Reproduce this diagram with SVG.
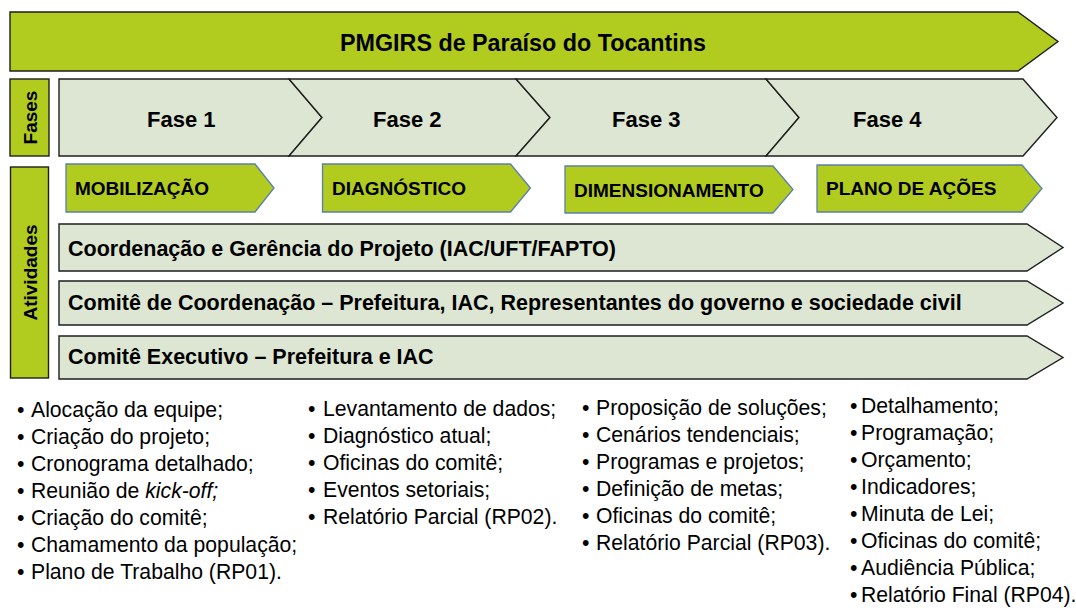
<svg xmlns="http://www.w3.org/2000/svg" width="1076" height="613" viewBox="0 0 1076 613">
<style>
.g{fill:#B1CB1F;stroke:#1e1e1e;stroke-width:1.4}
.lt{fill:#DDE6D2;stroke:#1e1e1e;stroke-width:1.4}
.sm{fill:#B1CB1F;stroke:#5B7FAA;stroke-width:1.3}
.b{font-family:"Liberation Sans",Arial,sans-serif;font-weight:bold;fill:#000}
.r{font-family:"Liberation Sans",Arial,sans-serif;font-size:21.2px;fill:#000}
</style>
<rect width="1076" height="613" fill="#fff"/>
<g id="title">
<polygon class="g" points="10,12 1018,12 1058,41.5 1018,71 10,71"/>
<text class="b" x="523" y="51" font-size="23.3" text-anchor="middle">PMGIRS de Paraíso do Tocantins</text>
</g>
<g id="fases-label">
<rect class="g" x="10" y="79" width="39" height="77"/>
<text class="b" font-size="19" text-anchor="middle" transform="translate(37,117.5) rotate(-90)">Fases</text>
</g>
<g id="fase1">
<polygon class="lt" points="59,79 289,79 322,117.5 289,156 59,156"/>
<text class="b" x="147" y="127" font-size="22">Fase 1</text>
</g>
<g id="fase2">
<polygon class="lt" points="289,79 516,79 550,117.5 516,156 289,156 322,117.5"/>
<text class="b" x="373" y="127" font-size="22">Fase 2</text>
</g>
<g id="fase3">
<polygon class="lt" points="516,79 766,79 799,117.5 766,156 516,156 550,117.5"/>
<text class="b" x="612" y="127" font-size="22">Fase 3</text>
</g>
<g id="fase4">
<polygon class="lt" points="766,79 1023,79 1057,117.5 1023,156 766,156 799,117.5"/>
<text class="b" x="853" y="127" font-size="22">Fase 4</text>
</g>
<g id="atividades-label">
<rect class="g" x="10.5" y="167" width="38" height="211"/>
<text class="b" font-size="19" text-anchor="middle" transform="translate(37,272.5) rotate(-90)">Atividades</text>
</g>
<g id="mobilizacao">
<polygon class="sm" points="66,164 255,164 274,188 255,212 66,212"/>
<text class="b" x="75" y="195" font-size="19">MOBILIZAÇÃO</text>
</g>
<g id="diagnostico">
<polygon class="sm" points="322.5,164 510.5,164 530.5,188 510.5,212 322.5,212"/>
<text class="b" x="332" y="195" font-size="19">DIAGNÓSTICO</text>
</g>
<g id="dimensionamento">
<polygon class="sm" points="565,166 773,166 793,189.5 773,213 565,213"/>
<text class="b" x="574" y="197" font-size="19">DIMENSIONAMENTO</text>
</g>
<g id="plano">
<polygon class="sm" points="817,165 1022,165 1042,188.5 1022,212 817,212"/>
<text class="b" x="826" y="195" font-size="19">PLANO DE AÇÕES</text>
</g>
<g id="coordenacao">
<polygon class="lt" points="59,224 1027,224 1063,247.5 1027,271 59,271"/>
<text class="b" x="68" y="256" font-size="21.5">Coordenação e Gerência do Projeto (IAC/UFT/FAPTO)</text>
</g>
<g id="comite-coordenacao">
<polygon class="lt" points="59,281 1027,281 1063,303 1027,325 59,325"/>
<text class="b" x="68" y="310" font-size="21.5">Comitê de Coordenação – Prefeitura, IAC, Representantes do governo e sociedade civil</text>
</g>
<g id="comite-executivo">
<polygon class="lt" points="59,336 1027,336 1063,357.5 1027,379 59,379"/>
<text class="b" x="68" y="364" font-size="21.5">Comitê Executivo – Prefeitura e IAC</text>
</g>
<g id="connectors"></g>
<g id="lista-fase1" class="r">
<text y="417"><tspan x="17">•</tspan><tspan x="31">Alocação da equipe;</tspan></text>
<text y="444"><tspan x="17">•</tspan><tspan x="31">Criação do projeto;</tspan></text>
<text y="471"><tspan x="17">•</tspan><tspan x="31">Cronograma detalhado;</tspan></text>
<text y="498"><tspan x="17">•</tspan><tspan x="31">Reunião de </tspan><tspan font-style="italic">kick-off;</tspan></text>
<text y="525"><tspan x="17">•</tspan><tspan x="31">Criação do comitê;</tspan></text>
<text y="552"><tspan x="17">•</tspan><tspan x="31">Chamamento da população;</tspan></text>
<text y="579"><tspan x="17">•</tspan><tspan x="31">Plano de Trabalho (RP01).</tspan></text>
</g>
<g id="lista-fase2" class="r">
<text y="416"><tspan x="308">•</tspan><tspan x="323">Levantamento de dados;</tspan></text>
<text y="443"><tspan x="308">•</tspan><tspan x="323">Diagnóstico atual;</tspan></text>
<text y="470"><tspan x="308">•</tspan><tspan x="323">Oficinas do comitê;</tspan></text>
<text y="497"><tspan x="308">•</tspan><tspan x="323">Eventos setoriais;</tspan></text>
<text y="524"><tspan x="308">•</tspan><tspan x="323">Relatório Parcial (RP02).</tspan></text>
</g>
<g id="lista-fase3" class="r">
<text y="415"><tspan x="582">•</tspan><tspan x="596">Proposição de soluções;</tspan></text>
<text y="442"><tspan x="582">•</tspan><tspan x="596">Cenários tendenciais;</tspan></text>
<text y="469"><tspan x="582">•</tspan><tspan x="596">Programas e projetos;</tspan></text>
<text y="496"><tspan x="582">•</tspan><tspan x="596">Definição de metas;</tspan></text>
<text y="523"><tspan x="582">•</tspan><tspan x="596">Oficinas do comitê;</tspan></text>
<text y="550"><tspan x="582">•</tspan><tspan x="596">Relatório Parcial (RP03).</tspan></text>
</g>
<g id="lista-fase4" class="r">
<text y="413"><tspan x="850">•</tspan><tspan x="861">Detalhamento;</tspan></text>
<text y="440"><tspan x="850">•</tspan><tspan x="861">Programação;</tspan></text>
<text y="467"><tspan x="850">•</tspan><tspan x="861">Orçamento;</tspan></text>
<text y="494"><tspan x="850">•</tspan><tspan x="861">Indicadores;</tspan></text>
<text y="521"><tspan x="850">•</tspan><tspan x="861">Minuta de Lei;</tspan></text>
<text y="548"><tspan x="850">•</tspan><tspan x="861">Oficinas do comitê;</tspan></text>
<text y="575"><tspan x="850">•</tspan><tspan x="861">Audiência Pública;</tspan></text>
<text y="602"><tspan x="850">•</tspan><tspan x="861">Relatório Final (RP04).</tspan></text>
</g>
</svg>
